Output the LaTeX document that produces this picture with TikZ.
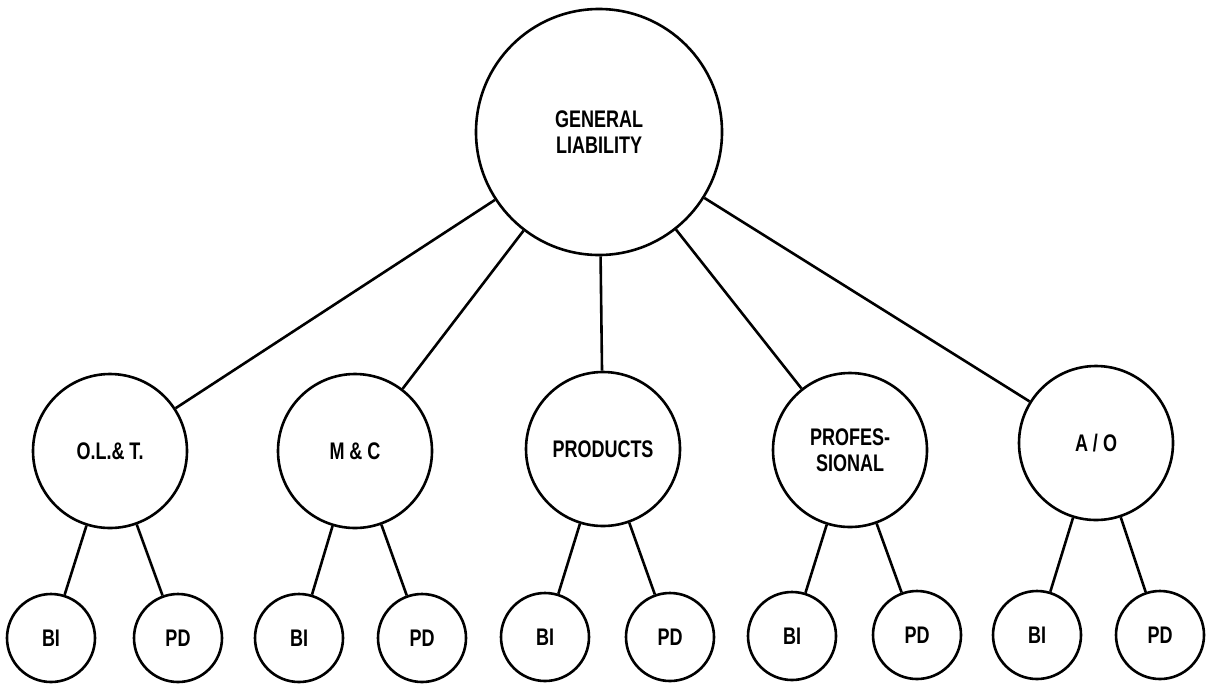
\documentclass[tikz,border=0pt]{standalone}
\usepackage{fontspec}
\newfontfamily\covfont[FakeStretch=0.75]{Liberation Sans}
\usepackage{tikz}
\begin{document}
\begin{tikzpicture}[x=1pt,y=-1pt,
    every node/.style={circle,draw,line width=2.6pt,inner sep=0pt,align=center,
      font=\covfont\bfseries\fontsize{24}{26}\selectfont},
    root/.style={minimum size=246pt},
    cover/.style={minimum size=154pt},
    leaf/.style={minimum size=88pt},
    link/.style={line width=2.6pt}]
    \useasboundingbox (0,0) rectangle (1206,683);
    \node[root] (gl) at (599,132) {GENERAL\\LIABILITY};
    \node[cover] (cov-1) at (110,451) {O.L.\& T.};
    \node[cover] (cov-2) at (355,451) {M \& C};
    \node[cover] (cov-3) at (603,449) {PRODUCTS};
    \node[cover] (cov-4) at (850,450) {PROFES-\\SIONAL};
    \node[cover] (cov-5) at (1096,443) {A / O};
    \node[leaf] (cov-1-bi) at (51,638) {BI};
    \node[leaf] (cov-1-pd) at (178,638) {PD};
    \node[leaf] (cov-2-bi) at (299,638) {BI};
    \node[leaf] (cov-2-pd) at (422,638) {PD};
    \node[leaf] (cov-3-bi) at (545,637) {BI};
    \node[leaf] (cov-3-pd) at (670,637) {PD};
    \node[leaf] (cov-4-bi) at (792,636) {BI};
    \node[leaf] (cov-4-pd) at (917,635) {PD};
    \node[leaf] (cov-5-bi) at (1037,635) {BI};
    \node[leaf] (cov-5-pd) at (1160,635) {PD};
    \draw[link] (gl) -- (cov-1);
    \draw[link] (gl) -- (cov-2);
    \draw[link] (gl) -- (cov-3);
    \draw[link] (gl) -- (cov-4);
    \draw[link] (gl) -- (cov-5);
    \draw[link] (cov-1) -- (cov-1-bi);
    \draw[link] (cov-1) -- (cov-1-pd);
    \draw[link] (cov-2) -- (cov-2-bi);
    \draw[link] (cov-2) -- (cov-2-pd);
    \draw[link] (cov-3) -- (cov-3-bi);
    \draw[link] (cov-3) -- (cov-3-pd);
    \draw[link] (cov-4) -- (cov-4-bi);
    \draw[link] (cov-4) -- (cov-4-pd);
    \draw[link] (cov-5) -- (cov-5-bi);
    \draw[link] (cov-5) -- (cov-5-pd);
\end{tikzpicture}
\end{document}
